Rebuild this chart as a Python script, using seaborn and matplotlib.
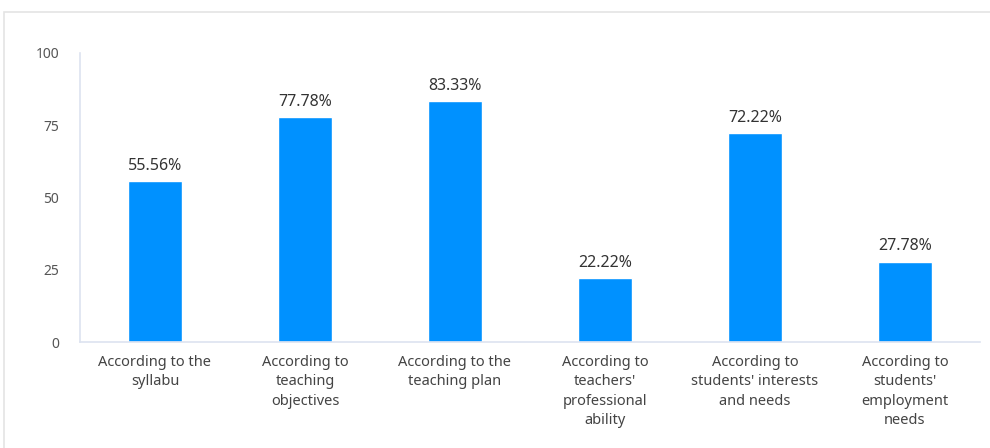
import matplotlib
matplotlib.use("Agg")
import matplotlib.pyplot as plt
import seaborn as sns
import pandas as pd
from matplotlib.patches import Rectangle

categories = [
    "According to the\nsyllabu",
    "According to\nteaching\nobjectives",
    "According to the\nteaching plan",
    "According to\nteachers'\nprofessional\nability",
    "According to\nstudents' interests\nand needs",
    "According to\nstudents'\nemployment\nneeds",
]
values = [55.56, 77.78, 83.33, 22.22, 72.22, 27.78]
y_ticks = [0, 25, 50, 75, 100]

df = pd.DataFrame({"category": categories, "value": values})

sns.set_theme(style="white")
plt.rcParams["font.family"] = ["Noto Sans", "DejaVu Sans"]

fig = plt.figure(figsize=(9.9, 4.48), dpi=100)
ax = fig.add_axes([80 / 990, (448 - 342) / 448, 900 / 990, (342 - 53) / 448])

sns.barplot(data=df, x="category", y="value", color="#0091FF",
            saturation=1, width=0.365, ax=ax)

ax.set_ylim(0, 100)
ax.set_xlim(-0.5, len(categories) - 0.5)
ax.set_yticks(y_ticks)
ax.set_yticklabels([str(t) for t in y_ticks])
ax.set_xlabel("")
ax.set_ylabel("")
ax.tick_params(axis="y", length=0, pad=15, labelsize=10, labelcolor="#555555")
ax.tick_params(axis="x", length=0, pad=9, labelsize=10.5, labelcolor="#444444")
for lbl in ax.get_xticklabels():
    lbl.set_linespacing(1.42)
    lbl.set_verticalalignment("top")

for side in ["top", "right"]:
    ax.spines[side].set_visible(False)
for side in ["left", "bottom"]:
    ax.spines[side].set_color("#dde3f0")
    ax.spines[side].set_linewidth(1.2)

for i, v in enumerate(values):
    ax.text(i, v + 2.5, f"{v:.2f}%", ha="center", va="bottom",
            fontsize=11.5, color="#333333")

# outer panel frame
fig.patches.append(Rectangle((4 / 990, -0.1), 1.2, (448 - 12) / 448 + 0.1,
                             transform=fig.transFigure, fill=False,
                             edgecolor="#e4e4e4", linewidth=1.2))

fig.savefig("out.png", dpi=100)
